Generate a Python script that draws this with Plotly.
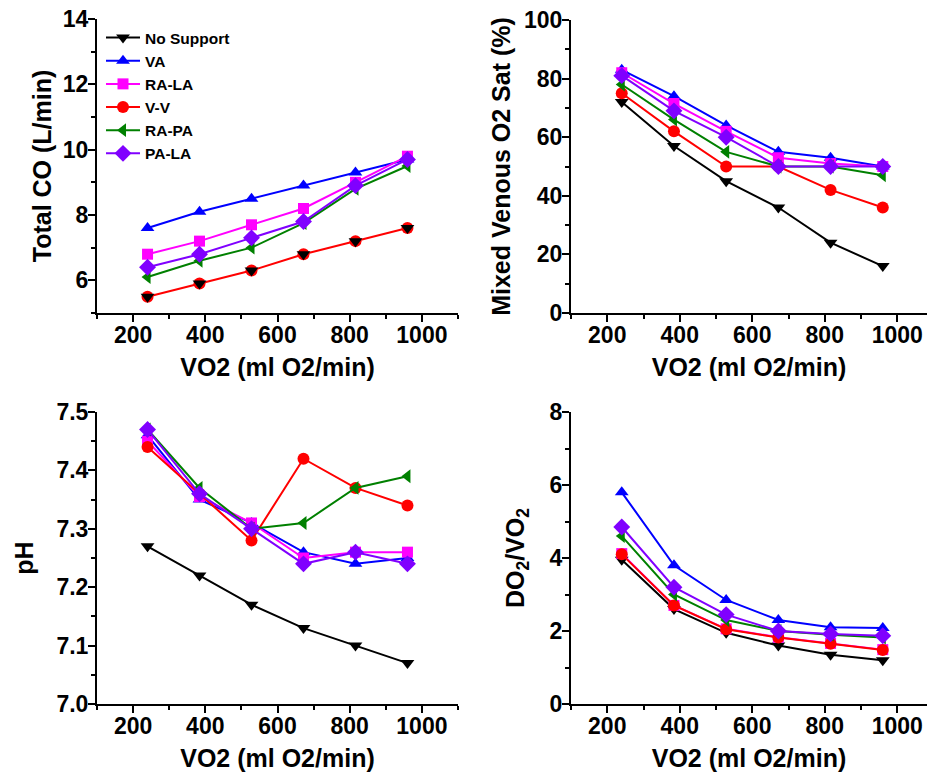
import plotly.graph_objects as go

vo2 = [240, 384, 528, 672, 816, 960]
series_names = ["No Support", "VA", "RA-LA", "V-V", "RA-PA", "PA-LA"]

total_co = {
    "No Support": [5.5, 5.9, 6.3, 6.8, 7.2, 7.6],
    "VA": [7.6, 8.1, 8.5, 8.9, 9.3, 9.7],
    "RA-LA": [6.8, 7.2, 7.7, 8.2, 9.0, 9.8],
    "V-V": [5.5, 5.9, 6.3, 6.8, 7.2, 7.6],
    "RA-PA": [6.1, 6.6, 7.0, 7.75, 8.8, 9.5],
    "PA-LA": [6.4, 6.8, 7.3, 7.8, 8.9, 9.7],
}
mixed_venous = {
    "No Support": [72, 57, 45, 36, 24, 16],
    "VA": [83, 74, 64, 55, 53, 50],
    "RA-LA": [82, 71.5, 62, 53, 51, 50],
    "V-V": [75, 62, 50, 50, 42, 36],
    "RA-PA": [78, 66, 55, 50, 50, 47],
    "PA-LA": [81, 69, 60, 50, 50, 50],
}
ph = {
    "No Support": [7.27, 7.22, 7.17, 7.13, 7.10, 7.07],
    "VA": [7.46, 7.35, 7.31, 7.26, 7.24, 7.25],
    "RA-LA": [7.45, 7.355, 7.31, 7.25, 7.26, 7.26],
    "V-V": [7.44, 7.36, 7.28, 7.42, 7.37, 7.34],
    "RA-PA": [7.47, 7.37, 7.30, 7.31, 7.37, 7.39],
    "PA-LA": [7.47, 7.36, 7.30, 7.24, 7.26, 7.24],
}
do2_vo2 = {
    "No Support": [3.95, 2.6, 1.95, 1.6, 1.35, 1.2],
    "VA": [5.8, 3.8, 2.85, 2.3, 2.1, 2.08],
    "RA-LA": [4.12, 2.7, 2.06, 1.83, 1.66, 1.49],
    "V-V": [4.1, 2.7, 2.05, 1.82, 1.65, 1.48],
    "RA-PA": [4.6, 3.0, 2.3, 2.0, 1.9, 1.82],
    "PA-LA": [4.85, 3.2, 2.45, 2.0, 1.92, 1.87],
}

styles = {
    "No Support": dict(color="#000000", symbol="triangle-down"),
    "VA": dict(color="#0000FF", symbol="triangle-up"),
    "RA-LA": dict(color="#FF00FF", symbol="square"),
    "V-V": dict(color="#FF0000", symbol="circle"),
    "RA-PA": dict(color="#008000", symbol="triangle-left"),
    "PA-LA": dict(color="#8000FF", symbol="diamond"),
}
msize = {"No Support": 12, "VA": 12, "RA-LA": 11, "V-V": 12, "RA-PA": 12, "PA-LA": 13}

FONT = "Liberation Sans, Arial, sans-serif"

fig = go.Figure()

panels = [
    ("x", "y", total_co),
    ("x2", "y2", mixed_venous),
    ("x3", "y3", ph),
    ("x4", "y4", do2_vo2),
]

for pi, (xa, ya, data) in enumerate(panels):
    order = list(series_names)
    if pi == 0:
        # V-V drawn before No Support here (its line covers the black one)
        order = ["VA", "RA-LA", "V-V", "RA-PA", "PA-LA", "No Support"]
    for name in order:
        st = styles[name]
        mode = "lines+markers"
        if pi == 0 and name == "No Support":
            mode = "markers"
        fig.add_trace(go.Scatter(
            x=vo2, y=data[name], name=name, mode=mode,
            xaxis=xa, yaxis=ya,
            line=dict(color=st["color"], width=2),
            marker=dict(color=st["color"], symbol=st["symbol"], size=msize[name],
                        line=dict(width=0)),
            showlegend=(pi == 1),
            legendgroup=name,
        ))

W, H = 927, 774
def dx(a, b):
    return [a / W, b / W]
def dy(top, bottom):
    return [1 - bottom / H, 1 - top / H]

tickfont = dict(family=FONT, size=23, color="black", weight="bold")
titlefont = dict(family=FONT, size=25, color="black", weight="bold")

def xaxis_cfg(domain, rng, anchor):
    return dict(
        domain=domain, range=rng, anchor=anchor,
        showline=True, linecolor="black", linewidth=2,
        ticks="outside", ticklen=7, tickwidth=2, tickcolor="black",
        tick0=0, dtick=200, ticklabelstandoff=-7,
        minor=dict(ticks="outside", ticklen=4, tickwidth=2, tickcolor="black", dtick=100, tick0=0),
        showgrid=False, zeroline=False, tickfont=tickfont,
        title=dict(text="VO2 (ml O2/min)", font=titlefont, standoff=12),
    )

def yaxis_cfg(domain, rng, anchor, dtick, mdtick, title, standoff, fmt=None):
    d = dict(
        domain=domain, range=rng, anchor=anchor,
        showline=True, linecolor="black", linewidth=2,
        ticks="outside", ticklen=7, tickwidth=2, tickcolor="black",
        tick0=0, dtick=dtick, ticklabelstandoff=-5,
        minor=dict(ticks="outside", ticklen=4, tickwidth=2, tickcolor="black", dtick=mdtick, tick0=0),
        showgrid=False, zeroline=False, tickfont=tickfont,
        title=dict(text=title, font=titlefont, standoff=standoff),
    )
    if fmt:
        d["tickformat"] = fmt
    return d

fig.update_layout(
    width=W, height=H,
    template="none",
    paper_bgcolor="white", plot_bgcolor="white",
    margin=dict(l=0, r=0, t=0, b=0),
    font=dict(family=FONT, color="black"),
    xaxis=xaxis_cfg(dx(97, 458), [100, 1100], "y"),
    yaxis=yaxis_cfg(dy(19, 313), [5, 14], "x", 2, 1, "Total CO (L/min)", 4),
    xaxis2=xaxis_cfg(dx(571, 927), [100, 1082], "y2"),
    yaxis2=yaxis_cfg(dy(20, 313), [0, 100], "x2", 20, 10, "Mixed Venous O2 Sat (%)", 6),
    xaxis3=xaxis_cfg(dx(97, 458), [100, 1100], "y3"),
    yaxis3=yaxis_cfg(dy(412, 704), [7.0, 7.5], "x3", 0.1, 0.05, "pH", 16, fmt=".1f"),
    xaxis4=xaxis_cfg(dx(571, 927), [100, 1082], "y4"),
    yaxis4=yaxis_cfg(dy(412, 704), [0, 8], "x4", 2, 1, "DO<sub>2</sub>/VO<sub>2</sub>", 18),
    legend=dict(
        x=101 / W, y=1 - 21 / H, xanchor="left", yanchor="top",
        bgcolor="rgba(0,0,0,0)", borderwidth=0,
        font=dict(family=FONT, size=15.5, color="black", weight="bold"),
        tracegroupgap=0, itemwidth=34,
    ),
)

fig.write_html("out.html", post_script="document.body.style.margin='0';",
               config={"displayModeBar": False})
